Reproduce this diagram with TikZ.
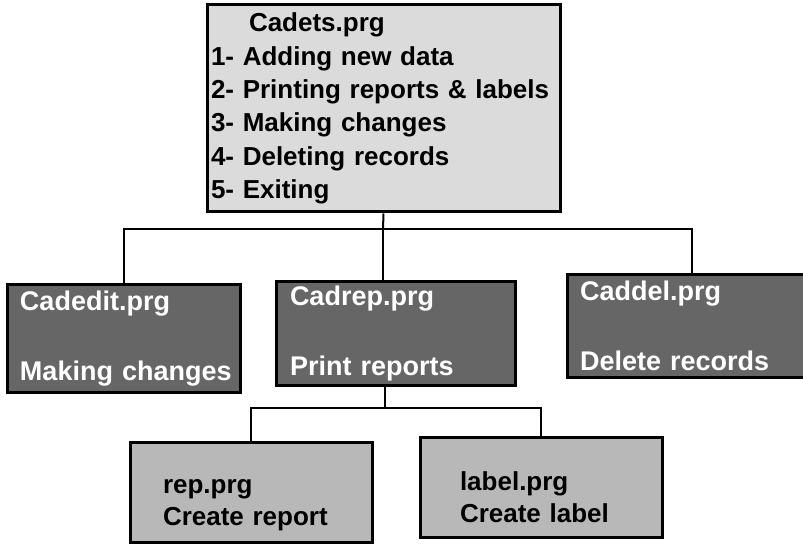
\documentclass[tikz,border=0pt]{standalone}
\usepackage{fontspec}
\setmainfont{Liberation Sans}

\begin{document}
\begin{tikzpicture}[x=1pt,y=-1pt,
    box/.style={draw, line width=3pt, inner xsep=4pt, inner ysep=0pt, align=left},
    menubox/.style={box, fill=black!14, font=\bfseries\fontsize{26}{33.4}\selectfont},
    progbox/.style={box, fill=black!60, text=white, font=\bfseries\fontsize{27}{32.4}\selectfont},
    taskbox/.style={box, fill=black!28, font=\bfseries\fontsize{26}{32}\selectfont},
    wire/.style={line width=2pt}]
    \useasboundingbox (0,0) rectangle (803,545);

    % main menu
    \node[menubox, text width=345pt, minimum height=207pt] (menu) at (383.5,108.5)
      {\hspace*{38pt}Cadets.prg\\ 1- Adding new data\\ 2- Printing reports \& labels\\
       3- Making changes\\ 4- Deleting records\\ 5- Exiting};

    % second level
    \node[progbox, text width=225pt, minimum height=107pt] (cadedit) at (123.5,338.5)
      {\hspace*{9pt}Cadedit.prg\\[38pt]\hspace*{9pt}Making changes};
    \node[progbox, text width=231pt, minimum height=103pt] (cadrep) at (395.5,333.5)
      {\hspace*{10pt}Cadrep.prg\\[38pt]\hspace*{10pt}Print reports};
    \node[progbox, text width=242pt, minimum height=102pt] (caddel) at (692,326)
      {\hspace*{9pt}Caddel.prg\\[38pt]\hspace*{9pt}Delete records};

    % third level
    \node[taskbox, text width=234pt, minimum height=100pt] (repprg) at (251,492)
      {\rule{0pt}{40pt}\hspace*{29pt}rep.prg\\ \hspace*{29pt}Create report};
    \node[taskbox, text width=234pt, minimum height=100pt] (labelprg) at (541,487)
      {\rule{0pt}{40pt}\hspace*{36pt}label.prg\\ \hspace*{36pt}Create label};

    % connectors
    \coordinate (bus) at (383,229);
    \draw[wire] (menu.south) -- (bus);
    \draw[wire] (cadedit.north) |- (bus) -| (caddel.north);
    \draw[wire] (bus) -- (bus |- cadrep.north);

    \coordinate (sub) at (385,408);
    \draw[wire] (cadrep.south -| sub) -- (sub);
    \draw[wire] (repprg.north) |- (sub) -| (labelprg.north);
\end{tikzpicture}
\end{document}
